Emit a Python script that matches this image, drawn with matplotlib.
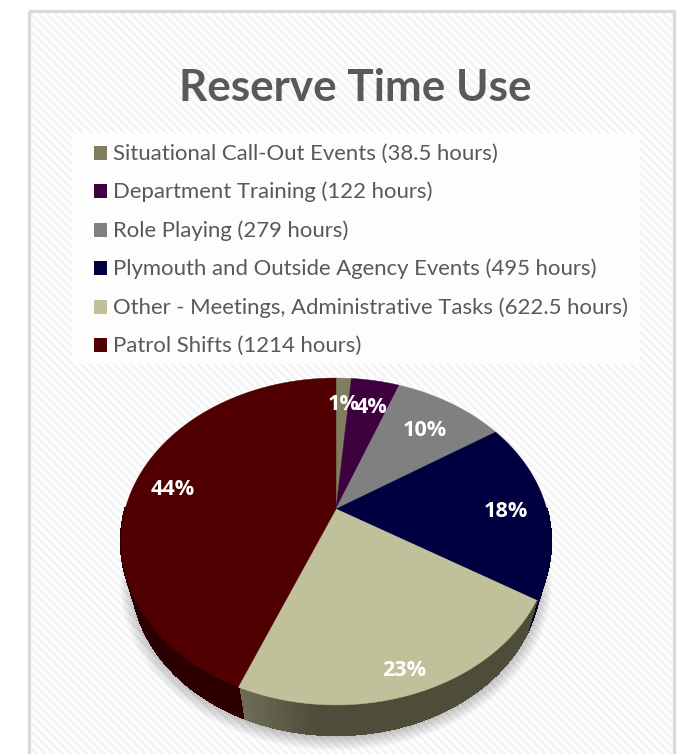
import numpy as np
import matplotlib
matplotlib.use('Agg')
import matplotlib.pyplot as plt
from matplotlib.patches import Polygon, Rectangle

names = ['Situational Call-Out Events', 'Department Training', 'Role Playing',
         'Plymouth and Outside Agency Events',
         'Other - Meetings, Administrative Tasks', 'Patrol Shifts']
hours = [38.5, 122, 279, 495, 622.5, 1214]
pct_labels = ['1%', '4%', '10%', '18%', '23%', '44%']
colors = ['#7f7f60', '#3f0040', '#808080', '#000040', '#c0c09a', '#500000']
side_colors = ['#3a3a2c', '#1c001c', '#3a3a3a', '#00001c', '#4d4d3a', '#2c0000']
side_light = ['#5a5a48', '#2e002e', '#555555', '#000030', '#6f6f58', '#3c0000']

# pie geometry in pixels
CX, CY = 336, 509
BX, BY, K = 210.7, 157, 0.1987
DEPTH, SX, SY = 36, 0.95, 0.97
TEXT = '#595959'


def project(frac, r=1.0, sx=1.0, sy=1.0, dy=0.0):
    """Clockwise fraction from 12 o'clock to a tilted pie pixel position."""
    a = 2 * np.pi * np.asarray(frac)
    x, y = r * np.sin(a), r * np.cos(a)
    d = 1 + K * y
    return CX + sx * BX * x / d, CY + dy - sy * BY * y / d


def mix(c1, c2, t):
    c1, c2 = np.array(matplotlib.colors.to_rgb(c1)), np.array(matplotlib.colors.to_rgb(c2))
    return c1 + (c2 - c1) * t


fig = plt.figure(figsize=(6.9, 7.54), dpi=100)
ax = fig.add_axes([0, 0, 1, 1])
ax.set_xlim(0, 690)
ax.set_ylim(754, 0)
ax.axis('off')

# panel with faint diagonal stripes
plt.rcParams['hatch.linewidth'] = 2.0
plt.rcParams['hatch.color'] = '#f4f4f4'
ax.add_patch(Rectangle((29, 11), 645, 760, facecolor='white', edgecolor='#f4f4f4',
                       hatch='\\\\\\\\', linewidth=0, zorder=1))
ax.add_patch(Rectangle((29, 11), 645, 760, facecolor='none', edgecolor='#d9d9d9',
                       linewidth=2.2, zorder=2))

ax.text(355, 88, 'Reserve Time Use', fontsize=31.7, fontweight='bold', color=TEXT,
        family='Lato', ha='center', va='center', zorder=5)

# legend
ax.add_patch(Rectangle((72, 134), 568, 230, facecolor='#fdfdfd', edgecolor='none', zorder=3))
for i, (name, h, c) in enumerate(zip(names, hours, colors)):
    y = 152.5 + 38.5 * i
    ax.add_patch(Rectangle((93.5, y - 7), 13.5, 14, facecolor=c, edgecolor='none', zorder=4))
    ax.text(113, y + 1, f'{name} ({h:g} hours)', fontsize=15.9, color=TEXT, family='Lato',
            ha='left', va='center', zorder=5)

# soft shadow under the pie
t = np.linspace(0, 1, 361)
for i in range(10):
    sx, sy = project(t, sx=SX + 0.006 * i, sy=SY + 0.006 * i, dy=DEPTH + 2 + 0.3 * i)
    ax.add_patch(Polygon(np.column_stack([sx, sy]), facecolor='black', edgecolor='none',
                         alpha=0.022, zorder=6))

fracs = np.cumsum([0] + hours) / np.sum(hours)

# side wall, front half only, in thin strips so it can fade from the slice edge
for i in range(len(hours)):
    n = max(int((fracs[i + 1] - fracs[i]) * 720), 2)
    edges = np.linspace(fracs[i], fracs[i + 1], n + 1)
    for j in range(n):
        if edges[j + 1] < 0.25 or edges[j] > 0.75:
            continue
        ft = np.linspace(edges[j], edges[j + 1], 3)
        x1, y1 = project(ft)
        x2, y2 = project(ft[::-1], sx=SX, sy=SY, dy=DEPTH)
        fade = np.clip((fracs[i + 1] - edges[j]) / 0.05, 0, 1)
        col = mix(side_light[i], side_colors[i], fade)
        ax.add_patch(Polygon(np.column_stack([np.r_[x1, x2], np.r_[y1, y2]]),
                             facecolor=col, edgecolor=col, linewidth=1.0,
                             antialiased=False, zorder=7))

# top face
for i, c in enumerate(colors):
    ft = np.linspace(fracs[i], fracs[i + 1], 200)
    x, y = project(ft)
    ax.add_patch(Polygon(np.column_stack([np.r_[CX, x], np.r_[CY, y]]),
                         facecolor=c, edgecolor=c, linewidth=0.3, zorder=8))

# percentage labels
label_r = [0.80, 0.80, 0.75, 0.81, 0.88, 0.81]
label_dx = [1, 3, 0, 0, -1, -1]
for i, lab in enumerate(pct_labels):
    lx, ly = project((fracs[i] + fracs[i + 1]) / 2, r=label_r[i])
    ax.text(lx + label_dx[i], ly + 4, lab, fontsize=15.6, fontweight='bold', color='white',
            family='Open Sans', ha='center', va='center', zorder=9)

fig.savefig('out.png', dpi=100, facecolor='white')
